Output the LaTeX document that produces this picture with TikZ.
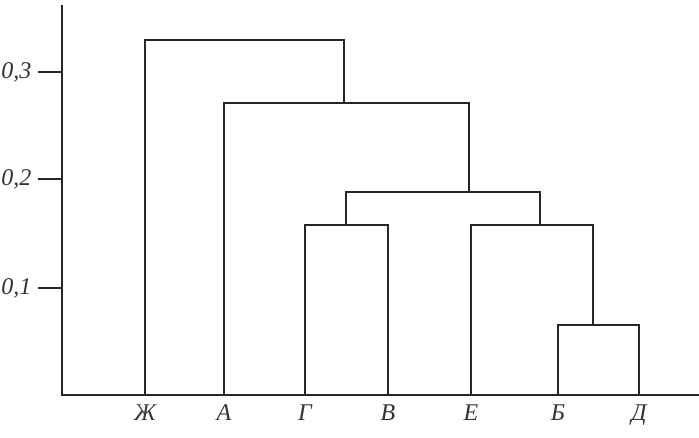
\documentclass[tikz,border=0pt]{standalone}
\usepackage{fontspec}
\setmainfont{Liberation Serif}
\begin{document}
\begin{tikzpicture}[x=0.75pt,y=-0.75pt,
  line/.style={draw=black!85,line width=1.2pt},
  leaflab/.style={font=\fontsize{18}{20}\selectfont\itshape,text=black!80,anchor=base},
  ticklab/.style={font=\fontsize{18}{20}\selectfont\itshape,text=black!80,anchor=east}]
\useasboundingbox (0,0) rectangle (699,437);
% axes
\coordinate (top) at (62,5);
\coordinate (origin) at (62,395);
\coordinate (xend) at (699,395);
\draw[line] (top) -- (origin) -- (xend);
% ticks
\foreach \n/\y/\t in {t3/72/{0,3},t2/179/{0,2},t1/288/{0,1}}{
  \coordinate (\n) at (62,\y);
  \coordinate (\n s) at (38,\y);
  \draw[line] (\n s) -- (\n);
  \node[ticklab] (\n l) at (36,\y) {\t};
}
% leaves
\foreach \n/\x/\t in {zh/145/Ж,a/224/А,g/305/Г,v/388/В,e/471/Е,b/558/Б,d/639/Д}{
  \coordinate (\n) at (\x,395);
  \node[leaflab] (\n l) at (\x,420) {\t};
}
% joins
\coordinate (bd1) at (558,325); \coordinate (bd2) at (639,325);
\coordinate (gv1) at (305,225); \coordinate (gv2) at (388,225);
\coordinate (ebd1) at (471,225); \coordinate (ebd2) at (593,225);
\coordinate (m1) at (346,192); \coordinate (m2) at (540,192);
\coordinate (a1) at (224,103); \coordinate (a2) at (469,103);
\coordinate (r1) at (145,40); \coordinate (r2) at (344,40);
\draw[line] (b) -- (bd1) -- (bd2) -- (d);
\draw[line] (g) -- (gv1) -- (gv2) -- (v);
\draw[line] (e) -- (ebd1) -- (ebd2) -- (593,325);
\draw[line] (346,225) -- (m1) -- (m2) -- (540,225);
\draw[line] (a) -- (a1) -- (a2) -- (469,192);
\draw[line] (zh) -- (r1) -- (r2) -- (344,103);
\end{tikzpicture}
\end{document}
